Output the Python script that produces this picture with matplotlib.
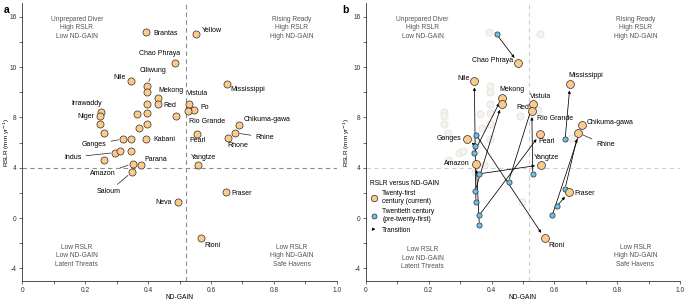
import matplotlib
matplotlib.use("Agg")
import matplotlib.pyplot as plt
import numpy as np
from matplotlib.lines import Line2D
from matplotlib.patches import FancyArrowPatch
from matplotlib.legend_handler import HandlerBase

plt.rcParams['font.family'] = ['Liberation Sans', 'DejaVu Sans']

# ---- panel a: current (21st century) RSLR vs ND-GAIN ----
rivers = ['Brantas', 'Yellow', 'Chao Phraya', 'Nile', 'Ciliwung', '', 'Mississippi',
          'Mekong', 'Red', '', 'Vistula', 'Po', 'Rio Grande', 'Irrawaddy', 'Niger',
          '', '', '', '', '', '', '', 'Chikuma-gawa', 'Rhine', 'Rhone', 'Pearl',
          'Ganges', '', 'Kabani', 'Indus', '', '', '', 'Amazon', 'Parana', 'Saloum',
          'Neva', 'Yangtze', 'Fraser', 'Rioni']
nd_gain = [0.393, 0.553, 0.485, 0.345, 0.396, 0.396, 0.650,
           0.433, 0.432, 0.396, 0.531, 0.547, 0.528, 0.250, 0.247,
           0.364, 0.396, 0.489, 0.247, 0.395, 0.371, 0.261, 0.689, 0.676, 0.653, 0.555,
           0.321, 0.347, 0.394, 0.296, 0.310, 0.347, 0.260, 0.351, 0.377, 0.348,
           0.496, 0.558, 0.647, 0.569]
rslr = [14.2, 14.0, 10.5, 9.44, 9.25, 9.02, 9.32,
        8.79, 8.54, 8.54, 8.52, 8.29, 8.26, 8.23, 8.06,
        8.15, 8.17, 8.06, 7.46, 7.46, 7.14, 6.75, 7.43, 6.77, 6.35, 6.67,
        6.29, 6.27, 6.27, 5.21, 5.36, 5.32, 4.63, 4.33, 4.23, 3.65,
        1.24, 4.23, 2.06, -1.59]

# ---- panel b: transitions from 20th century ----
rivers_b = ['Chao Phraya', 'Nile', 'Mekong', 'Red', 'Vistula', 'Rio Grande', 'Mississippi',
            'Chikuma-gawa', 'Rhine', 'Pearl', 'Ganges', 'Amazon', 'Yangtze', 'Fraser', 'Rioni']
nd_gain_20c = [0.416, 0.350, 0.343, 0.348, 0.454, 0.531, 0.634,
               0.593, 0.634, 0.361, 0.348, 0.361, 0.361, 0.608, 0.350]
rslr_20c = [13.9, 1.27, 5.14, 2.18, 2.90, 3.50, 6.25,
            0.21, 2.34, 0.24, 5.76, -0.55, 3.52, 0.96, 6.64]

yticks = [-4, 0, 4, 8, 10, 16]
yminor = [-2, 2, 6, 9, 13]
xticks = [0, 0.2, 0.4, 0.6, 0.8, 1.0]
xticklabels = ['0', '0.2', '0.4', '0.6', '0.8', '1.0']

# piecewise-linear y axis: labelled ticks equally spaced
knots_v = [-8, -4, 0, 4, 8, 10, 16, 22]
knots_i = [-1, 0, 1, 2, 3, 4, 5, 6]


def fwd(v):
    return np.interp(v, knots_v, knots_i)


def inv(i):
    return np.interp(i, knots_i, knots_v)


ORANGE = '#fccb8b'
BLUE = '#6cc0ee'
EDGE = '#2b2b2b'
TXT = 5.0

# label offsets (pixels; dx, dy, ha, leader)
lab_a = {
    'Brantas': (7, -1.5, 'left', False), 'Yellow': (6, 3, 'left', False),
    'Chao Phraya': (5.6, 9.4, 'right', False), 'Nile': (-5, 3.3, 'right', False),
    'Ciliwung': (6.6, 15, 'center', True), 'Mekong': (-0.3, 7.4, 'left', False),
    'Red': (5, -1.5, 'left', False), 'Vistula': (-2.6, 10.6, 'left', False),
    'Po': (6, 3, 'left', False), 'Rio Grande': (0.7, -10.7, 'left', False),
    'Mississippi': (3.3, -5.7, 'left', False), 'Irrawaddy': (1.3, 8.4, 'right', False),
    'Niger': (-5.7, -1, 'right', False), 'Kabani': (7.4, 0, 'left', False),
    'Ganges': (-16.6, -5.3, 'right', True), 'Chikuma-gawa': (4.7, 4.7, 'left', False),
    'Rhine': (20.3, -4.3, 'left', True), 'Rhone': (-0.7, -7.7, 'left', False),
    'Pearl': (-7.4, -6, 'left', False), 'Indus': (-33.6, -4.6, 'right', True),
    'Parana': (3.6, 5.7, 'left', False), 'Amazon': (-16.7, -10.3, 'right', True),
    'Saloum': (-22.7, -19.4, 'center', True), 'Neva': (-6.6, 0, 'right', False),
    'Yangtze': (-6.7, 7.3, 'left', False), 'Fraser': (5.3, -1.7, 'left', False),
    'Rioni': (3.4, -7.7, 'left', False),
}
lab_b = {
    'Chao Phraya': (-5.3, 2.7, 'right', False), 'Nile': (-5, 2.6, 'right', False),
    'Mekong': (-2.7, 8.4, 'left', False), 'Red': (15, -3.6, 'left', False),
    'Vistula': (-2.3, 8.3, 'left', False), 'Rio Grande': (5.3, -7.7, 'left', False),
    'Pearl': (-1.4, -7.6, 'left', False), 'Mississippi': (-2, 9, 'left', False),
    'Chikuma-gawa': (4.7, 1.6, 'left', False), 'Rhine': (17.7, -12, 'left', True),
    'Ganges': (-5.5, 0, 'right', False), 'Amazon': (-6.3, 0, 'right', False),
    'Yangtze': (-7.3, 7.6, 'left', False), 'Fraser': (5.3, -1.6, 'left', False),
    'Rioni': (3.3, -7, 'left', False),
}


def style_axes(ax, dash_color, ylab_x):
    ax.set_yscale('function', functions=(fwd, inv))
    ax.set_xlim(0, 1.0)
    ax.set_ylim(-5, 17.6)
    ax.set_yticks(yticks)
    ax.set_yticklabels([str(t) for t in yticks])
    ax.set_yticks(yminor, minor=True)
    ax.set_xticks(xticks)
    ax.set_xticklabels(xticklabels)
    ax.set_xticks(np.arange(0.1, 1.0, 0.2), minor=True)
    for s in ['top', 'right']:
        ax.spines[s].set_visible(False)
    for s in ['left', 'bottom']:
        ax.spines[s].set_linewidth(0.6)
        ax.spines[s].set_color('#333333')
    ax.tick_params(which='both', labelsize=4.8, length=2, width=0.5, colors='#333333', pad=2)
    ax.tick_params(which='minor', labelleft=False, labelbottom=False)
    ax.set_xlabel('ND-GAIN', fontsize=4.8)
    ax.set_ylabel('RSLR (mm yr$^{-1}$)', fontsize=4.6)
    ax.xaxis.set_label_coords(0.5, -0.048)
    ax.yaxis.set_label_coords(ylab_x, 0.5)
    ax.axvline(0.52, color=dash_color, lw=0.8, dashes=(4, 3), zorder=0)
    ax.axhline(4, color=dash_color, lw=0.8, dashes=(4, 3), zorder=0)


def quadrant_text(ax, xs, ys):
    kw = dict(fontsize=4.8, color='#555555', ha='center', va='center', linespacing=1.3)
    ax.text(xs[0], ys[0], 'Unprepared Diver\nHigh RSLR\nLow ND-GAIN', **kw)
    ax.text(xs[1], ys[0], 'Rising Ready\nHigh RSLR\nHigh ND-GAIN', **kw)
    ax.text(xs[0], ys[1], 'Low RSLR\nLow ND-GAIN\nLatent Threats', **kw)
    ax.text(xs[1], ys[2], 'Low RSLR\nHigh ND-GAIN\nSafe Havens', **kw)


def put_label(ax, name, x, y, spec):
    dx, dy, ha, leader = spec
    ap = None
    if leader:
        ap = dict(arrowstyle='-', lw=0.5, color='#222222', shrinkA=1, shrinkB=3.5)
    ax.annotate(name, (x, y), xytext=(dx, dy), textcoords='offset pixels',
                ha=ha, va='center', fontsize=TXT, color='black', arrowprops=ap, zorder=6)


class ArrowHandler(HandlerBase):
    def create_artists(self, legend, orig_handle, xd, yd, width, height, fontsize, trans):
        a = FancyArrowPatch((xd, yd + height / 2), (xd + width, yd + height / 2),
                            arrowstyle='-|>', mutation_scale=4, lw=0.6, color='black',
                            transform=trans)
        return [a]


fig = plt.figure(figsize=(6.85, 3.02), dpi=100)
ax_a = fig.add_axes([0.0326, 0.0695, 0.459, 0.9195])
ax_b = fig.add_axes([0.5343, 0.0695, 0.4584, 0.9195])

# ---- panel a ----
style_axes(ax_a, '#8c8c8c', -0.033)
ax_a.scatter(nd_gain, rslr, s=26, c=ORANGE, edgecolors=EDGE, linewidths=0.5, zorder=4)
for name, x, y in zip(rivers, nd_gain, rslr):
    if name in lab_a:
        put_label(ax_a, name, x, y, lab_a[name])
quadrant_text(ax_a, (0.173, 0.857), (14.7, -3.0, -3.0))
fig.text(0.005, 0.985, 'a', fontsize=7.5, fontweight='bold', va='top')

# ---- panel b ----
style_axes(ax_b, '#cfcfcf', -0.045)
ax_b.scatter(nd_gain, rslr, s=26, c='#f6f2ed', edgecolors='#e2ddd6', linewidths=0.5, zorder=1)
lookup = {n: (x, y) for n, x, y in zip(rivers, nd_gain, rslr)}
cur_x = [lookup[n][0] for n in rivers_b]
cur_y = [lookup[n][1] for n in rivers_b]
for x0, y0, x1, y1 in zip(nd_gain_20c, rslr_20c, cur_x, cur_y):
    ax_b.annotate('', xy=(x1, y1), xytext=(x0, y0),
                  arrowprops=dict(arrowstyle='-|>', lw=0.55, color='black',
                                  mutation_scale=4, shrinkA=2, shrinkB=4.5), zorder=2)
ax_b.scatter(nd_gain_20c, rslr_20c, s=14, c=BLUE, edgecolors=EDGE, linewidths=0.5, zorder=4)
ax_b.scatter(cur_x, cur_y, s=32, c=ORANGE, edgecolors=EDGE, linewidths=0.5, zorder=5)
for name, x, y in zip(rivers_b, cur_x, cur_y):
    put_label(ax_b, name, x, y, lab_b[name])
quadrant_text(ax_b, (0.18, 0.858), (14.7, -3.2, -3.0))
fig.text(0.5, 0.985, 'b', fontsize=7.5, fontweight='bold', va='top')

handles = [Line2D([], [], ls='none', marker='o', ms=4.6, mfc=ORANGE, mec=EDGE, mew=0.5),
           Line2D([], [], ls='none', marker='o', ms=3.6, mfc=BLUE, mec=EDGE, mew=0.5),
           'arrow']
labels = ['Twenty-first\ncentury (current)', 'Twentieth century\n(pre-twenty-first)', 'Transition']
leg = ax_b.legend(handles, labels, title='RSLR versus ND-GAIN', loc='upper left',
                  bbox_to_anchor=(0.005, 0.375), frameon=False, fontsize=4.8,
                  title_fontsize=4.8, handlelength=1.2, handletextpad=0.6,
                  labelspacing=0.5, borderaxespad=0, handler_map={str: ArrowHandler()})
leg._legend_box.align = 'left'

fig.savefig('out.png', dpi=100)
